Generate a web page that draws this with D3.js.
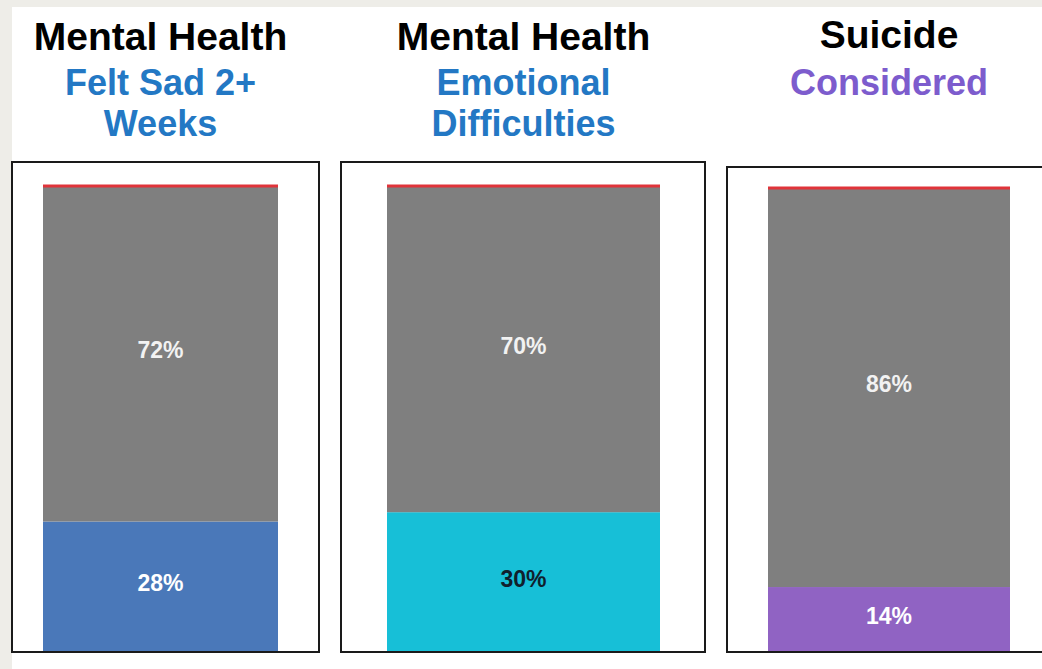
<!DOCTYPE html>
<html>
<head>
<meta charset="utf-8">
<script src="https://cdn.jsdelivr.net/npm/d3@7/dist/d3.min.js"></script>
<style>
  html, body { margin: 0; padding: 0; background: #eeede8; }
  svg { display: block; }
  text { font-family: "Liberation Sans", Arial, sans-serif; font-weight: bold; }
</style>
</head>
<body>
<svg id="chart" width="1042" height="669"></svg>
<script>
// Survey indicators, one stacked 100% bar per indicator
const headings = ["Mental Health", "Mental Health", "Suicide"];
const subheadings = [["Felt Sad 2+", "Weeks"], ["Emotional", "Difficulties"], ["Considered"]];
const yesPct = [28, 30, 14];
const noPct = [72, 70, 86];

// Styling
const yesColors = ["#4a78b9", "#17bfd7", "#9063c3"];
const subColors = ["#2378c4", "#2378c4", "#7d5ccd"];
const yesLabelColors = ["#ffffff", "#10202c", "#ffffff"];
const noColor = "#7f7f7f";
const capColor = "#e0343a";

// Panel frames and bar extents (page layout)
const panels = [
  { box: [12, 319], top: 162, bar: [43, 278], barTop: 186, head: 50 },
  { box: [341, 705], top: 162, bar: [387, 660], barTop: 186, head: 50 },
  { box: [727, 1060], top: 167, bar: [768, 1010], barTop: 188, head: 48 }
];
const bottom = 652;

const svg = d3.select("#chart");

// white page area
svg.append("rect").attr("x", 12).attr("y", 7).attr("width", 1030).attr("height", 662).attr("fill", "#ffffff");

const rows = headings.map((h, i) => ({ key: "p" + i, yes: yesPct[i], no: noPct[i] }));
const stacked = d3.stack().keys(["yes", "no"])(rows);

panels.forEach((p, i) => {
  const g = svg.append("g");
  const x = d3.scaleBand().domain([rows[i].key]).range(p.bar).padding(0);
  const y = d3.scaleLinear().domain([0, 100]).range([bottom, p.barTop]);
  const cx = x(rows[i].key) + x.bandwidth() / 2;

  // headings
  g.append("text").attr("x", cx).attr("y", p.head).attr("text-anchor", "middle")
    .attr("font-size", 39).attr("fill", "#000").text(headings[i]);
  subheadings[i].forEach((line, j) => {
    g.append("text").attr("x", cx).attr("y", 95 + j * 41).attr("text-anchor", "middle")
      .attr("font-size", 36).attr("fill", subColors[i]).text(line);
  });

  // frame
  g.append("rect").attr("x", p.box[0]).attr("y", p.top)
    .attr("width", p.box[1] - p.box[0]).attr("height", bottom - p.top)
    .attr("fill", "#fff").attr("stroke", "#1a1a1a").attr("stroke-width", 2);

  // stacked segments
  stacked.forEach(series => {
    const d = series[i];
    const fill = series.key === "yes" ? yesColors[i] : noColor;
    g.append("rect")
      .attr("x", x(rows[i].key)).attr("width", x.bandwidth())
      .attr("y", y(d[1])).attr("height", y(d[0]) - y(d[1]))
      .attr("fill", fill);
    const val = d[1] - d[0];
    g.append("text")
      .attr("x", cx).attr("y", (y(d[0]) + y(d[1])) / 2)
      .attr("dy", "0.2em").attr("text-anchor", "middle")
      .attr("font-size", 23)
      .attr("fill", series.key === "yes" ? yesLabelColors[i] : "#f2f2f2")
      .text(val + "%");
  });

  // red cap line at 100%
  g.append("line").attr("x1", p.bar[0]).attr("x2", p.bar[1])
    .attr("y1", y(100)).attr("y2", y(100))
    .attr("stroke", capColor).attr("stroke-width", 3);

  // redraw bottom edge of the frame above the bar
  g.append("line").attr("x1", p.box[0]).attr("x2", p.box[1])
    .attr("y1", bottom).attr("y2", bottom)
    .attr("stroke", "#1a1a1a").attr("stroke-width", 2);
});
</script>
</body>
</html>
